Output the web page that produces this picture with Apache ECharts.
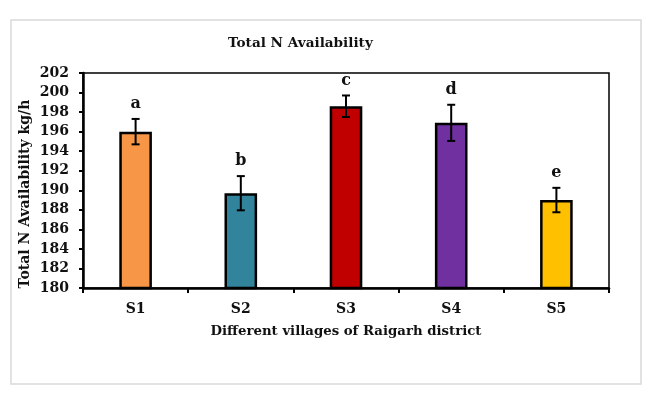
<!DOCTYPE html>
<html>
<head>
<meta charset="utf-8">
<script src="https://cdn.jsdelivr.net/npm/echarts@6/dist/echarts.min.js"></script>
<style>html,body{margin:0;padding:0;background:#fff;}#c{width:651px;height:395px;}</style>
</head>
<body>
<div id="c"></div>
<script>
var categories = ['S1', 'S2', 'S3', 'S4', 'S5'];
var values = [196.0, 189.7, 198.6, 196.9, 189.0];
var errors = [1.3, 1.75, 1.1, 1.85, 1.25];
var letters = ['a', 'b', 'c', 'd', 'e'];
var colors = ['#F79646', '#31849B', '#C00000', '#7030A0', '#FFC000'];
var yTicks = [180, 182, 184, 186, 188, 190, 192, 194, 196, 198, 200, 202];

var FONT = 'DejaVu Serif';
var chart = echarts.init(document.getElementById('c'));
var option = {
  backgroundColor: '#fff',
  animation: false,
  title: {
    text: 'Total N Availability',
    left: 223, top: 31,
    textStyle: { fontFamily: FONT, fontWeight: 'bold', fontSize: 13.6, color: '#111' }
  },
  graphic: [
    { type: 'rect', shape: { x: 11, y: 20, width: 630, height: 364 }, style: { fill: 'none', stroke: '#d9d9d9', lineWidth: 1.5 }, silent: true },
    { type: 'text', x: 25, y: 194, rotation: Math.PI / 2,
      style: { text: 'Total N Availability kg/h', fontFamily: FONT, fontWeight: 'bold', fontSize: 14, fill: '#111', align: 'center', verticalAlign: 'middle' } }
  ],
  grid: { left: 83, right: 42, top: 73, bottom: 107, show: true, borderColor: '#000', borderWidth: 1.5, backgroundColor: 'transparent' },
  xAxis: {
    type: 'category',
    data: categories,
    name: 'Different villages of Raigarh district',
    nameLocation: 'middle',
    nameGap: 37,
    nameTextStyle: { fontFamily: FONT, fontWeight: 'bold', fontSize: 13.3, color: '#111' },
    axisLine: { lineStyle: { color: '#000', width: 2.5 } },
    axisTick: { show: true, alignWithLabel: false, length: 5, lineStyle: { color: '#000', width: 2 } },
    axisLabel: { margin: 14, fontFamily: FONT, fontWeight: 'bold', fontSize: 14, color: '#111' }
  },
  yAxis: {
    type: 'value',
    min: 180, max: 202, interval: 2,
    axisLine: { show: true, lineStyle: { color: '#000', width: 2.5 } },
    axisTick: { show: true, length: 4, lineStyle: { color: '#000', width: 2 } },
    splitLine: { show: false },
    axisLabel: { margin: 14, fontFamily: FONT, fontWeight: 'bold', fontSize: 14, color: '#111',
      formatter: function (v) { return yTicks.indexOf(v) >= 0 ? String(v) : ''; } }
  },
  series: [
    {
      type: 'bar',
      barWidth: '31%',
      data: values.map(function (v, i) {
        return { value: v, itemStyle: { color: colors[i], borderColor: '#000', borderWidth: 2.5 } };
      }),
      z: 2
    },
    {
      type: 'custom',
      z: 5,
      data: values.map(function (v, i) { return [i, v - errors[i], v + errors[i]]; }),
      renderItem: function (params, api) {
        var i = api.value(0);
        var lo = api.coord([i, api.value(1)]);
        var hi = api.coord([i, api.value(2)]);
        var x = lo[0];
        var cap = 4;
        var st = { stroke: '#000', lineWidth: 2 };
        return {
          type: 'group',
          children: [
            { type: 'line', shape: { x1: x, y1: lo[1], x2: x, y2: hi[1] }, style: st },
            { type: 'line', shape: { x1: x - cap, y1: lo[1], x2: x + cap, y2: lo[1] }, style: st },
            { type: 'line', shape: { x1: x - cap, y1: hi[1], x2: x + cap, y2: hi[1] }, style: st },
            { type: 'text', x: x, y: hi[1] - 7,
              style: { text: letters[params.dataIndex], fontFamily: FONT, fontWeight: 'bold', fontSize: 16, fill: '#111', align: 'center', verticalAlign: 'bottom' } }
          ]
        };
      }
    }
  ]
};
chart.setOption(option);
</script>
</body>
</html>
